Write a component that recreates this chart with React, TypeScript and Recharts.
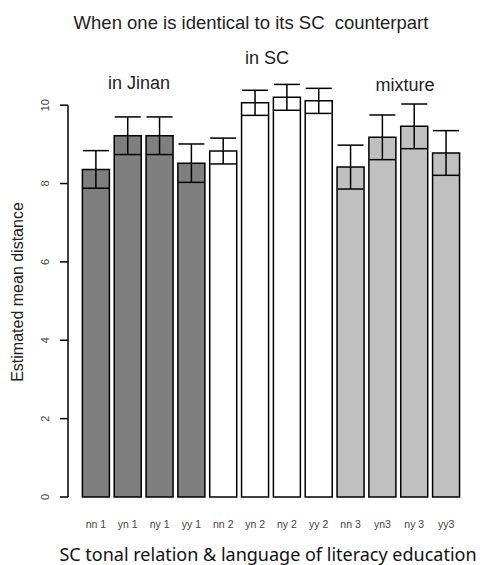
import React from "react";
import { BarChart, Bar, XAxis, YAxis, ErrorBar, Cell } from "recharts";

const categories = ["nn 1", "yn 1", "ny 1", "yy 1", "nn 2", "yn 2", "ny 2", "yy 2", "nn 3", "yn3", "ny 3", "yy3"];
const meanDistance = [8.36, 9.22, 9.22, 8.52, 8.83, 10.06, 10.2, 10.11, 8.42, 9.18, 9.46, 8.78];
const stdError = [0.48, 0.48, 0.48, 0.49, 0.33, 0.32, 0.33, 0.32, 0.56, 0.57, 0.57, 0.57];
const groupOf = [0, 0, 0, 0, 1, 1, 1, 1, 2, 2, 2, 2];
const groupNames = ["in Jinan", "in SC", "mixture"];
const yTicks = [0, 2, 4, 6, 8, 10];

const GROUP_FILL = ["#7f7f7f", "#ffffff", "#c0c0c0"];

const W = 488;
const H = 565;
const TOP = 66;
const RIGHT = 14;
const Y_W = 68;
const X_H = 68;
const Y_MAX = 11;
const PLOT_H = H - TOP - X_H;
const FONT = "Arial, 'Liberation Sans', sans-serif";

const data = categories.map((name, i) => ({
  name,
  value: meanDistance[i],
  err: stdError[i],
  group: groupOf[i],
}));

// R style axis: line only from 0 to the last tick
const YTick = ({ y, payload }: any) => {
  const v = payload.value;
  const axisLen = (PLOT_H * yTicks[yTicks.length - 1]) / Y_MAX;
  return (
    <g>
      <text
        x={45}
        y={y}
        transform={`rotate(-90, 45, ${y})`}
        textAnchor="middle"
        dominantBaseline="central"
        fontSize={11}
        fontFamily={FONT}
        fill="#444"
      >
        {v}
      </text>
      {v === 0 && (
        <line x1={Y_W} x2={Y_W} y1={y} y2={y - axisLen} stroke="#000" strokeWidth={1.5} />
      )}
    </g>
  );
};

const XTick = ({ x, y, payload }: any) => (
  <text
    x={x}
    y={y}
    dy={23}
    textAnchor="middle"
    fontSize={10.5}
    fontFamily={FONT}
    fill="#444"
  >
    {payload.value}
  </text>
);

export default function App() {
  return (
    <div style={{ position: "absolute", left: 0, top: 0, width: W, height: H, background: "#fff" }}>
      <BarChart
        width={W}
        height={H}
        data={data}
        margin={{ top: TOP, right: RIGHT, bottom: 0, left: 0 }}
        barCategoryGap="7.5%"
      >
        <XAxis
          dataKey="name"
          height={X_H}
          axisLine={false}
          tickLine={false}
          interval={0}
          padding={{ left: 12, right: 12 }}
          tick={<XTick />}
        />
        <YAxis
          width={Y_W}
          domain={[0, Y_MAX]}
          ticks={yTicks}
          axisLine={false}
          tickLine={{ stroke: "#000", strokeWidth: 1.5 }}
          tickSize={8}
          tick={<YTick />}
        />
        <Bar dataKey="value" stroke="#000" strokeWidth={1.5} isAnimationActive={false}>
          {data.map((d, i) => (
            <Cell key={`c-${i}`} fill={GROUP_FILL[d.group]} />
          ))}
          <ErrorBar dataKey="err" width={13} stroke="#000" strokeWidth={1.5} direction="y" />
        </Bar>
      </BarChart>
      <svg width={W} height={H} style={{ position: "absolute", left: 0, top: 0, pointerEvents: "none" }}>
        <text
          x={251}
          y={22}
          textAnchor="middle"
          dominantBaseline="central"
          fontSize={18.5}
          fontFamily={FONT}
          fill="#222"
          style={{ whiteSpace: "pre" }}
        >
          {"When one is identical to its SC  counterpart"}
        </text>
        <text x={139} y={83} textAnchor="middle" dominantBaseline="central" fontSize={18} fontFamily={FONT} fill="#222">
          {groupNames[0]}
        </text>
        <text x={267} y={58} textAnchor="middle" dominantBaseline="central" fontSize={18} fontFamily={FONT} fill="#222">
          {groupNames[1]}
        </text>
        <text x={405} y={85} textAnchor="middle" dominantBaseline="central" fontSize={18} fontFamily={FONT} fill="#222">
          {groupNames[2]}
        </text>
        <text
          x={17}
          y={292}
          transform="rotate(-90, 17, 292)"
          textAnchor="middle"
          dominantBaseline="central"
          fontSize={16}
          fontFamily={FONT}
          fill="#222"
        >
          Estimated mean distance
        </text>
        <text
          x={268}
          y={554}
          textAnchor="middle"
          dominantBaseline="central"
          fontSize={18}
          fontFamily="'Noto Sans', sans-serif"
          fill="#111"
        >
          SC tonal relation &amp; language of literacy education
        </text>
      </svg>
    </div>
  );
}
